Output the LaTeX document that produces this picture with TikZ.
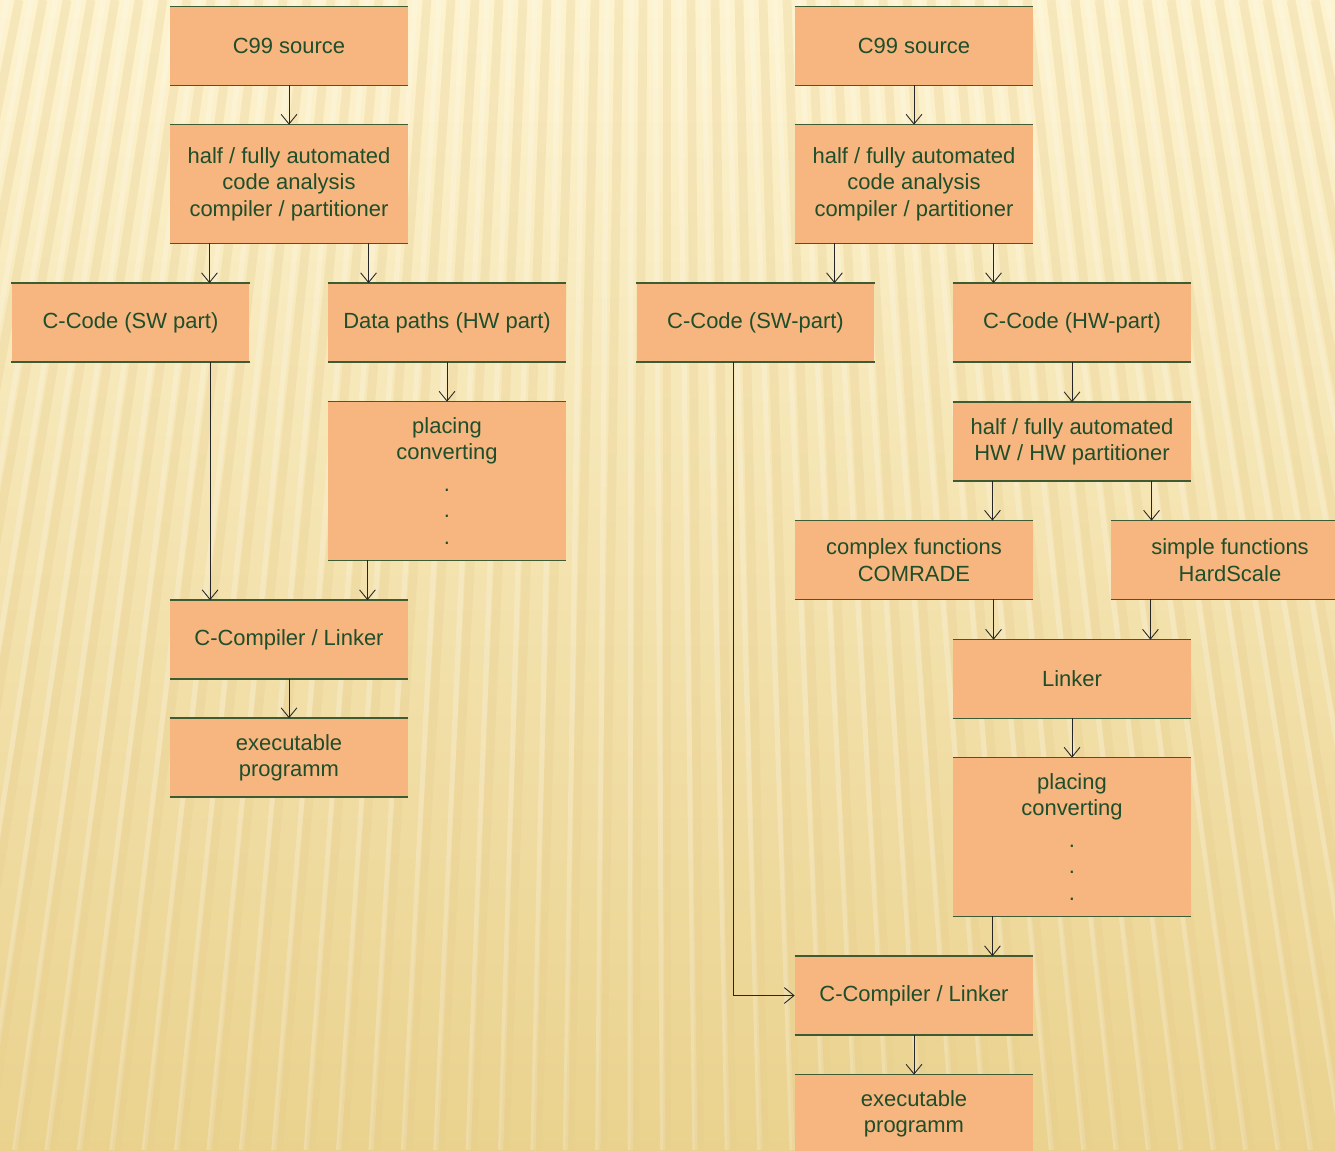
\documentclass[tikz,border=0pt]{standalone}
\usepackage{fontspec}
\setmainfont{Liberation Sans}
\usetikzlibrary{arrows.meta,calc}

\definecolor{bgtop}{RGB}{253,243,207}
\definecolor{bgmid}{RGB}{249,232,180}
\definecolor{bgbot}{RGB}{234,210,142}
\definecolor{stripe}{RGB}{230,203,140}
\definecolor{boxfill}{RGB}{247,181,127}
\definecolor{boxline}{RGB}{62,92,52}
\definecolor{txt}{RGB}{30,78,42}

\tikzset{
  stepbox/.style={fill=boxfill, minimum width=4.76cm, minimum height=1.56cm,
    inner sep=0pt, align=center, text=txt,
    font=\fontsize{12.5}{15}\selectfont},
  tallbox/.style={stepbox, minimum height=3.16cm},
  rule/.style={draw=boxline, line width=0.9pt},
  arr/.style={draw=black!85, line width=0.5pt,
    -{Straight Barb[length=5.5pt,width=9pt,line width=0.5pt]}},
}

\begin{document}
\begin{tikzpicture}[x=0.02cm, y=-0.02cm]
\useasboundingbox (0,0) rectangle (1335,1150);

% background: warm gradient with a fan of soft stripes
\shade[top color=bgtop, middle color=bgmid, bottom color=bgbot]
  (0,0) rectangle (1335,1150);
\begin{scope}
  \clip (0,0) rectangle (1335,1150);
  \foreach \i in {-36,...,36}{
    \draw[stripe, opacity=0.28, line width=5pt]
      ({667+\i*24},0) -- ({667+\i*24*1.35},1150);
    \draw[white, opacity=0.22, line width=3pt]
      ({679+\i*24},0) -- ({679+\i*24*1.35+16},1150);
  }
\end{scope}

% ---- left flow ----
\node[stepbox] (lsrc) at (289,46)    {C99 source};
\node[tallbox, minimum height=2.36cm] (lana) at (289,184)
  {half / fully automated\\code analysis\\compiler / partitioner};
\node[stepbox] (lsw)  at (130.5,322.5) {C-Code (SW part)};
\node[stepbox] (lhw)  at (447,322.5)   {Data paths (HW part)};
\node[tallbox] (lpl)  at (447,481)
  {placing\\converting\\[3pt].\\.\\.};
\node[stepbox] (lcc)  at (289,639.5) {C-Compiler / Linker};
\node[stepbox] (lexe) at (289,757.5) {executable\\programm};

% ---- right flow ----
\node[stepbox] (rsrc) at (914,46)    {C99 source};
\node[tallbox, minimum height=2.36cm] (rana) at (914,184)
  {half / fully automated\\code analysis\\compiler / partitioner};
\node[stepbox] (rsw)  at (755.5,322.5) {C-Code (SW-part)};
\node[stepbox] (rhw)  at (1072,322.5)  {C-Code (HW-part)};
\node[stepbox] (rpart) at (1072,441.5)
  {half / fully automated\\HW / HW partitioner};
\node[stepbox] (rcx)  at (914,560)   {complex functions\\COMRADE};
\node[stepbox] (rsim) at (1230,560)  {simple functions\\HardScale};
\node[stepbox] (rlk)  at (1072,679)  {Linker};
\node[tallbox] (rpl)  at (1072,837)
  {placing\\converting\\[3pt].\\.\\.};
\node[stepbox] (rcc)  at (914,995.5) {C-Compiler / Linker};
\node[stepbox] (rexe) at (914,1114)  {executable\\programm};

% rules along the top and bottom edge of every box
\foreach \n in {lsrc,lana,lsw,lhw,lpl,lcc,lexe,
                rsrc,rana,rsw,rhw,rpart,rcx,rsim,rlk,rpl,rcc,rexe}{
  \draw[rule] (\n.north west) -- (\n.north east);
  \draw[rule] (\n.south west) -- (\n.south east);
}

% ---- connectors, left ----
\draw[arr] (lsrc.south) -- (lana.north);
\path ($(lana.south west)!1/6!(lana.south east)$) coordinate (la1)
      ($(lana.south west)!5/6!(lana.south east)$) coordinate (la2);
\draw[arr] (la1) -- (la1 |- lsw.north);
\draw[arr] (la2) -- (la2 |- lhw.north);
\draw[arr] (lhw.south) -- (lpl.north);
\path ($(lsw.south west)!5/6!(lsw.south east)$) coordinate (ls1)
      ($(lpl.south west)!1/6!(lpl.south east)$) coordinate (lp1);
\draw[arr] (ls1) -- (ls1 |- lcc.north);
\draw[arr] (lp1) -- (lp1 |- lcc.north);
\draw[arr] (lcc.south) -- (lexe.north);

% ---- connectors, right ----
\draw[arr] (rsrc.south) -- (rana.north);
\path ($(rana.south west)!1/6!(rana.south east)$) coordinate (ra1)
      ($(rana.south west)!5/6!(rana.south east)$) coordinate (ra2);
\draw[arr] (ra1) -- (ra1 |- rsw.north);
\draw[arr] (ra2) -- (ra2 |- rhw.north);
\draw[arr] (rhw.south) -- (rpart.north);
\path ($(rpart.south west)!1/6!(rpart.south east)$) coordinate (rp1)
      ($(rpart.south west)!5/6!(rpart.south east)$) coordinate (rp2);
\draw[arr] (rp1) -- (rp1 |- rcx.north);
\draw[arr] (rp2) -- (rp2 |- rsim.north);
\path ($(rcx.south west)!5/6!(rcx.south east)$) coordinate (rc1)
      ($(rsim.south west)!1/6!(rsim.south east)$) coordinate (rs1);
\draw[arr] (rc1) -- (rc1 |- rlk.north);
\draw[arr] (rs1) -- (rs1 |- rlk.north);
\draw[arr] (rlk.south) -- (rpl.north);
\path ($(rpl.south west)!1/6!(rpl.south east)$) coordinate (rl1);
\draw[arr] (rl1) -- (rl1 |- rcc.north);
\path ($(rsw.south west)!0.406!(rsw.south east)$) coordinate (rw1);
\draw[arr] (rw1) |- (rcc.west);
\draw[arr] (rcc.south) -- (rexe.north);
\end{tikzpicture}
\end{document}
